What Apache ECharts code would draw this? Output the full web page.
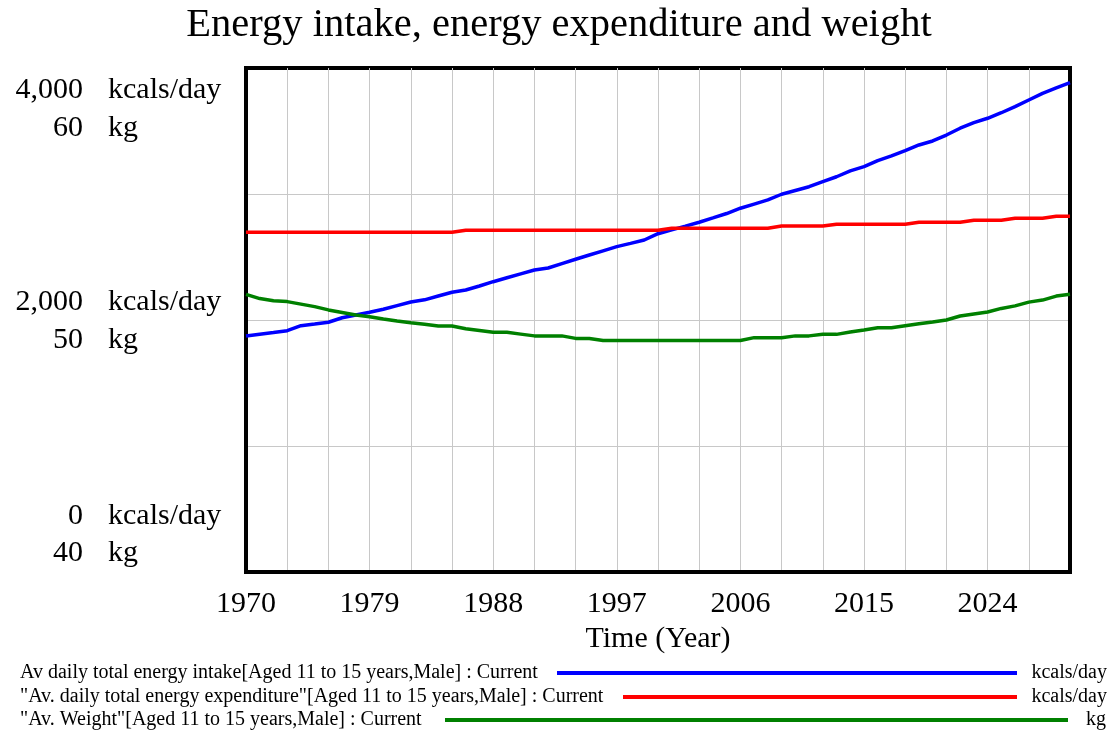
<!DOCTYPE html>
<html>
<head>
<meta charset="utf-8">
<script src="https://cdn.jsdelivr.net/npm/echarts@6/dist/echarts.min.js"></script>
<style>
html,body{margin:0;padding:0;background:#fff;}
#chart{width:1118px;height:735px;}
</style>
</head>
<body>
<div id="chart"></div>
<script>
// ---- data ----
const years = [1970,1971,1972,1973,1974,1975,1976,1977,1978,1979,
  1980,1981,1982,1983,1984,1985,1986,1987,1988,1989,
  1990,1991,1992,1993,1994,1995,1996,1997,1998,1999,
  2000,2001,2002,2003,2004,2005,2006,2007,2008,2009,
  2010,2011,2012,2013,2014,2015,2016,2017,2018,2019,
  2020,2021,2022,2023,2024,2025,2026,2027,2028,2029,2030];

const intake = [1873,1887,1900,1915,1955,1968,1982,2018,2040,2061,
  2085,2114,2143,2160,2190,2220,2238,2270,2304,2335,
  2366,2397,2413,2448,2482,2516,2549,2582,2608,2635,
  2685,2715,2745,2776,2810,2845,2887,2920,2953,2998,
  3028,3058,3098,3137,3183,3217,3265,3302,3344,3389,
  3421,3468,3522,3566,3601,3645,3693,3746,3799,3842,3884];

const expenditure = [2696,2696,2696,2696,2696,2696,2696,2696,2696,2696,
  2696,2696,2696,2696,2696,2696,2712,2712,2712,2712,
  2712,2712,2712,2712,2712,2712,2712,2712,2712,2712,
  2712,2728,2728,2728,2728,2728,2728,2728,2728,2746,
  2746,2746,2746,2760,2760,2760,2760,2760,2760,2776,
  2776,2776,2776,2792,2792,2792,2807,2807,2807,2823,2823];

const weight = [51.02,50.85,50.76,50.73,50.63,50.53,50.40,50.30,50.20,50.13,
  50.04,49.96,49.89,49.83,49.76,49.76,49.65,49.58,49.51,49.51,
  49.44,49.37,49.37,49.37,49.27,49.27,49.19,49.19,49.19,49.19,
  49.19,49.19,49.19,49.19,49.19,49.19,49.19,49.30,49.30,49.30,
  49.37,49.37,49.43,49.43,49.52,49.60,49.69,49.69,49.77,49.85,
  49.92,50.00,50.16,50.24,50.32,50.46,50.56,50.71,50.79,50.95,51.02];

const kcalTickLabels = ['4,000','2,000','0'];
const kgTickLabels = ['60','50','40'];
const kcalUnit = 'kcals/day';
const kgUnit = 'kg';

const seriesNames = [
  'Av daily total energy intake[Aged 11 to 15 years,Male] : Current',
  '"Av. daily total energy expenditure"[Aged 11 to 15 years,Male] : Current',
  '"Av. Weight"[Aged 11 to 15 years,Male] : Current'
];
const seriesUnits = ['kcals/day','kcals/day','kg'];
const seriesColors = ['#0000ff','#ff0000','#008000'];

const titleText = 'Energy intake, energy expenditure and weight';
const xName = 'Time (Year)';

// ---- chart ----
const FONT = '"Liberation Serif", "Times New Roman", serif';
const chart = echarts.init(document.getElementById('chart'), null, {renderer:'canvas'});

function pairs(vals){ return years.map((y,i)=>[y, vals[i]]); }

const graphics = [];
// y-axis labels (Vensim style, evenly spaced stacked labels)
const kcalY = [90, 302, 516];
const kgY = [128, 340, 553];
kcalTickLabels.forEach((t,i)=>{
  graphics.push({type:'text', style:{text:t, x:83, y:kcalY[i], align:'right', verticalAlign:'middle', font:'30px '+FONT, fill:'#000'}});
  graphics.push({type:'text', style:{text:kcalUnit, x:108, y:kcalY[i], align:'left', verticalAlign:'middle', font:'30px '+FONT, fill:'#000'}});
});
kgTickLabels.forEach((t,i)=>{
  graphics.push({type:'text', style:{text:t, x:83, y:kgY[i], align:'right', verticalAlign:'middle', font:'30px '+FONT, fill:'#000'}});
  graphics.push({type:'text', style:{text:kgUnit, x:108, y:kgY[i], align:'left', verticalAlign:'middle', font:'30px '+FONT, fill:'#000'}});
});
// legend
const legY = [673, 697, 720];
const legLineStart = [557, 623, 445];
const legLineEnd = [1017, 1017, 1068];
const legUnitRight = [1107, 1107, 1106];
seriesNames.forEach((n,i)=>{
  graphics.push({type:'text', style:{text:n, x:20, y:legY[i], align:'left', verticalAlign:'middle', font:'20px '+FONT, fill:'#000'}});
  graphics.push({type:'line', shape:{x1:legLineStart[i], y1:legY[i], x2:legLineEnd[i], y2:legY[i]}, style:{stroke:seriesColors[i], lineWidth:4}});
  graphics.push({type:'text', style:{text:seriesUnits[i], x:legUnitRight[i], y:legY[i], align:'right', verticalAlign:'middle', font:'20px '+FONT, fill:'#000'}});
});

const option = {
  animation:false,
  backgroundColor:'#fff',
  title:{text:titleText, left:'center', top:0, textStyle:{fontFamily:FONT, fontSize:40.5, fontWeight:'normal', color:'#000'}},
  grid:{left:246, right:48, top:68, bottom:163, show:true, borderColor:'#000', borderWidth:4, backgroundColor:'#fff'},
  xAxis:{
    type:'value', min:1970, max:2030, interval:3,
    name:xName, nameLocation:'middle', nameGap:51,
    nameTextStyle:{fontFamily:FONT, fontSize:30, color:'#000'},
    axisLine:{show:true, lineStyle:{color:'#000', width:4}},
    axisTick:{show:false},
    axisLabel:{fontFamily:FONT, fontSize:30, color:'#000', margin:17,
      formatter:function(v){ return ((v-1970)%9===0) ? String(v) : ''; }},
    splitLine:{show:true, showMinLine:false, showMaxLine:false, lineStyle:{color:'#c8c8c8', width:1}}
  },
  yAxis:[
    {type:'value', min:0, max:4000, interval:1000,
     axisLine:{show:true, lineStyle:{color:'#000', width:4}}, axisTick:{show:false}, axisLabel:{show:false},
     splitLine:{show:true, showMinLine:false, showMaxLine:false, lineStyle:{color:'#c8c8c8', width:1}}},
    {type:'value', min:40, max:60, interval:5, position:'right',
     axisLine:{show:true, lineStyle:{color:'#000', width:4}}, axisTick:{show:false}, axisLabel:{show:false},
     splitLine:{show:false}}
  ],
  series:[
    {name:seriesNames[0], type:'line', yAxisIndex:0, data:pairs(intake), showSymbol:false, lineStyle:{color:seriesColors[0], width:3.5}, itemStyle:{color:seriesColors[0]}},
    {name:seriesNames[1], type:'line', yAxisIndex:0, data:pairs(expenditure), showSymbol:false, lineStyle:{color:seriesColors[1], width:3.5}, itemStyle:{color:seriesColors[1]}},
    {name:seriesNames[2], type:'line', yAxisIndex:1, data:pairs(weight), showSymbol:false, lineStyle:{color:seriesColors[2], width:3.5}, itemStyle:{color:seriesColors[2]}}
  ],
  graphic:graphics
};
chart.setOption(option);
</script>
</body>
</html>
